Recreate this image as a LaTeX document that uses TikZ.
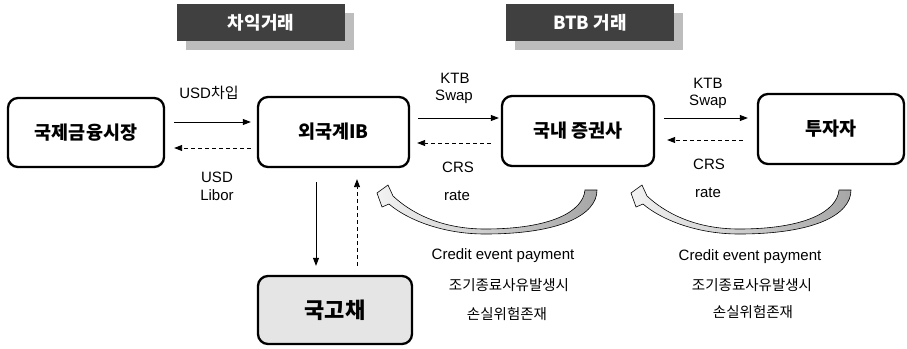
\documentclass[tikz,border=0pt]{standalone}
\usepackage{fontspec}
\setmainfont{Liberation Sans}
\newfontfamily\kr{Noto Sans CJK KR}
\usetikzlibrary{arrows.meta,shadows}

\definecolor{hdrgray}{HTML}{404040}
\definecolor{shdgray}{HTML}{BDBDBD}

\tikzset{
  boite/.style={draw, line width=2.3pt, rounded corners=10pt, fill=white, inner sep=0pt,
    font=\kr\bfseries\fontsize{18.5}{21}\selectfont},
  titre/.style={fill=hdrgray, text=white, minimum width=168pt, minimum height=37pt, inner sep=0pt,
    font=\kr\bfseries\fontsize{18}{20}\selectfont,
    drop shadow={shadow xshift=9pt, shadow yshift=-9pt, fill=shdgray, opacity=1}},
  lien/.style={line width=0.9pt, -{Triangle[length=8pt,width=6pt]}},
  retour/.style={lien, dash pattern=on 4pt off 3pt},
  etiq/.style={font=\fontsize{15}{17}\selectfont, inner sep=0pt},
  courbe/.style={draw=black, line width=0.6pt, left color=gray!10, right color=gray!70}
}

\begin{document}
\begin{tikzpicture}[x=1pt,y=-1pt]

\useasboundingbox (0,0) rectangle (907,348) ;

% titres

\node[titre] (tcha) at (261,22.5) {차익거래} ;
\node[titre] (tbtb) at (590,22.5) {BTB 거래} ;

% boites

\node[boite, minimum width=156pt, minimum height=69pt] (marche) at (86,132.5) {국제금융시장} ;
\node[boite, minimum width=151pt, minimum height=70pt] (ib) at (333.5,132) {외국계IB} ;
\node[boite, minimum width=152pt, minimum height=70pt] (courtier) at (578,131) {국내 증권사} ;
\node[boite, minimum width=146pt, minimum height=70pt] (invest) at (831,129) {투자자} ;
\node[boite, fill=gray!20, minimum width=154pt, minimum height=68pt,
  font=\kr\bfseries\fontsize{22}{24}\selectfont] (ktb) at (335,310) {국고채} ;

% niveaux des fleches

\coordinate (h1) at (0,122) ;
\coordinate (h2) at (0,148) ;
\coordinate (h3) at (0,118) ;
\coordinate (h4) at (0,143) ;
\coordinate (h5) at (0,140) ;
\coordinate (v1) at (316,0) ;
\coordinate (v2) at (357,0) ;

% fleches droites

\draw[lien, shorten <=9pt, shorten >=6pt] (marche.east |- h1) -- (ib.west |- h1) ;
\draw[retour, shorten <=6pt, shorten >=9pt] (ib.west |- h2) -- (marche.east |- h2) ;
\draw[lien, shorten <=8pt, shorten >=2pt] (ib.east |- h3) -- (courtier.west |- h3) ;
\draw[retour, shorten <=10pt, shorten >=7pt] (courtier.west |- h4) -- (ib.east |- h4) ;
\draw[lien, shorten <=9pt, shorten >=9pt] (courtier.east |- h3) -- (invest.west |- h3) ;
\draw[retour, shorten <=14pt, shorten >=12pt] (invest.west |- h5) -- (courtier.east |- h5) ;
\draw[lien, shorten <=14pt, shorten >=9pt] (ib.south -| v1) -- (ktb.north -| v1) ;
\draw[retour, shorten <=9pt, shorten >=11pt] (ktb.north -| v2) -- (ib.south -| v2) ;

% etiquettes

\node[etiq] (lusd) at (209,93) {USD{\kr 차입}} ;
\node[etiq] (lusd2) at (217,177) {USD} ;
\node[etiq] (llibor) at (217,195) {Libor} ;
\node[etiq] (lktb1) at (455,78) {KTB} ;
\node[etiq] (lswap1) at (454,97) {Swap} ;
\node[etiq] (lcrs1) at (458,167) {CRS} ;
\node[etiq] (lrate1) at (457,196) {rate} ;
\node[etiq] (lktb2) at (708,83) {KTB} ;
\node[etiq] (lswap2) at (708,102) {Swap} ;
\node[etiq] (lcrs2) at (709,164) {CRS} ;
\node[etiq] (lrate2) at (708,193) {rate} ;

\node[etiq] (lcred1) at (503,256) {Credit event payment} ;
\node[etiq, font=\kr\fontsize{14.5}{17}\selectfont] (lsort1) at (509,285) {조기종료사유발생시} ;
\node[etiq, font=\kr\fontsize{14.5}{17}\selectfont] (lrisq1) at (507,314) {손실위험존재} ;
\node[etiq] (lcred2) at (750,257) {Credit event payment} ;
\node[etiq, font=\kr\fontsize{14.5}{17}\selectfont] (lsort2) at (752,285) {조기종료사유발생시} ;
\node[etiq, font=\kr\fontsize{14.5}{17}\selectfont] (lrisq2) at (753,312) {손실위험존재} ;

% fleches courbes

\path[courbe] (585,190) -- (597,190) .. controls (597,215) and (560,234) .. (485,234)
  .. controls (440,234) and (405,218) .. (389,204) -- (382,207) -- (377,193) -- (388,185)
  -- (393,196) .. controls (410,212) and (440,229) .. (485,229)
  .. controls (550,229) and (583,212) .. (585,190) -- cycle ;

\begin{scope}[xshift=254pt]
\path[courbe] (585,190) -- (597,190) .. controls (597,215) and (560,234) .. (485,234)
  .. controls (440,234) and (405,218) .. (389,204) -- (382,207) -- (377,193) -- (388,185)
  -- (393,196) .. controls (410,212) and (440,229) .. (485,229)
  .. controls (550,229) and (583,212) .. (585,190) -- cycle ;
\end{scope}

\end{tikzpicture}
\end{document}
